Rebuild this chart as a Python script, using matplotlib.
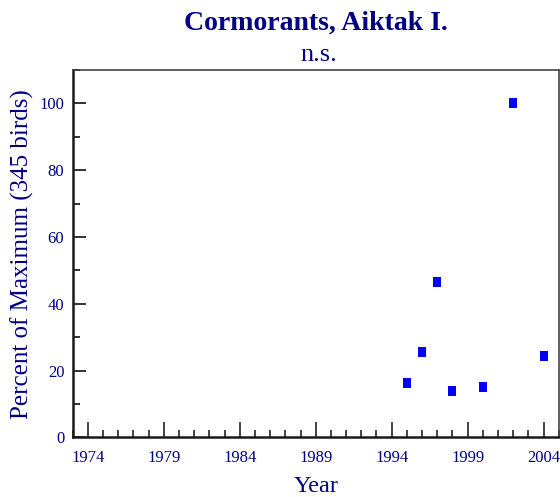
import matplotlib
matplotlib.use("Agg")
import matplotlib.pyplot as plt
from matplotlib.ticker import MultipleLocator

# data
years = [1995, 1996, 1997, 1998, 2000, 2002, 2004]
percent = [16.4, 25.4, 46.5, 13.8, 15.0, 100.0, 24.3]
x_ticks = [1974, 1979, 1984, 1989, 1994, 1999, 2004]
y_ticks = [0, 20, 40, 60, 80, 100]

title = "Cormorants, Aiktak I."
subtitle = "n.s."
x_label = "Year"
y_label = "Percent of Maximum (345 birds)"

NAVY = "#000080"


def main():
    plt.rcParams['font.family'] = ['Liberation Serif', 'DejaVu Serif']

    fig = plt.figure(figsize=(5.6, 4.97), dpi=100)
    ax = fig.add_axes([0.1298, 0.1201, 0.8679, 0.7391])

    # slightly tall rectangle marker, like the reference
    rect = [(-0.39, -0.5), (0.39, -0.5), (0.39, 0.5), (-0.39, 0.5), (-0.39, -0.5)]
    ax.plot(years, percent, linestyle='none', marker=rect, markersize=6.8,
            markerfacecolor='#0000ff', markeredgewidth=0)

    ax.set_xlim(1973, 2005)
    ax.set_ylim(0, 110)
    ax.set_xticks(x_ticks)
    ax.xaxis.set_minor_locator(MultipleLocator(1))
    ax.set_yticks(y_ticks)
    ax.yaxis.set_minor_locator(MultipleLocator(10))

    ax.tick_params(axis='x', which='major', direction='in', length=10.8, width=1.2,
                   color='#222222', labelsize=12, labelcolor=NAVY, pad=9)
    ax.tick_params(axis='x', which='minor', direction='in', length=5.3, width=1.2,
                   color='#222222')
    ax.tick_params(axis='y', which='major', direction='in', length=9.1, width=1.3,
                   color='#222222', labelsize=12, labelcolor=NAVY, pad=6)
    ax.tick_params(axis='y', which='minor', direction='in', length=4.8, width=1.3,
                   color='#222222')

    for side in ['left', 'bottom']:
        ax.spines[side].set_linewidth(1.8)
        ax.spines[side].set_color('#1a1a1a')
    for side in ['top', 'right']:
        ax.spines[side].set_linewidth(1.2)
        ax.spines[side].set_color('#444444')

    ax.set_xlabel(x_label, fontsize=17.5, color=NAVY, labelpad=7)
    ax.set_ylabel(y_label, fontsize=18, color=NAVY, labelpad=4)

    fig.text(0.5636, 1 - 29.5 / 497, title, fontsize=20, fontweight='bold',
             color=NAVY, ha='center', va='baseline')
    fig.text(0.5700, 1 - 61 / 497, subtitle, fontsize=19, color=NAVY,
             ha='center', va='baseline')

    fig.savefig('out.png', dpi=100)


if __name__ == "__main__":
    main()
